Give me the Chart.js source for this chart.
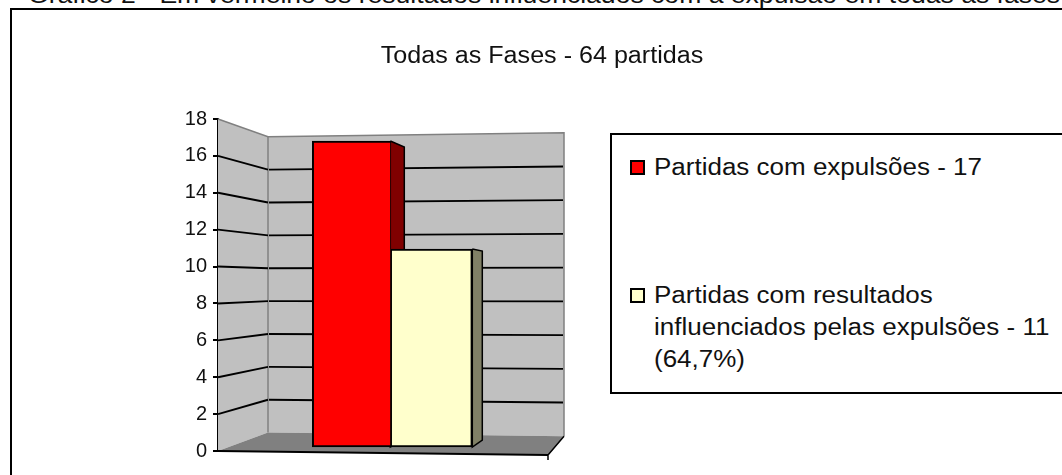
<!DOCTYPE html>
<html lang="pt">
<head>
<meta charset="utf-8">
<title>Gráfico 2</title>
<script src="https://cdn.jsdelivr.net/npm/chart.js@4"></script>
<style>
    html, body { margin: 0; padding: 0; background: #fff; overflow: hidden; width: 1062px; height: 475px; }
    body { position: relative; font-family: "Liberation Sans", Arial, sans-serif; color: #111; }
    /* o texto do original está esticado na horizontal */
    #cabecalho { position: absolute; left: 28px; top: -20.5px; font-size: 23px; line-height: 30px; white-space: nowrap; transform: scaleX(1.155); transform-origin: left top; }
    #marco { position: absolute; left: 9.5px; top: 8px; width: 1100px; height: 500px; border: 2px solid #000; }
    #grafico { position: absolute; left: 0; top: 0; }
    #legenda { position: absolute; left: 610px; top: 133px; width: 500px; height: 257px; border: 2px solid #000; background: #fff; font-size: 23px; line-height: 32px; }
    .item { position: absolute; left: 42px; white-space: nowrap; }
    .texto { transform: scaleX(1.13); transform-origin: left top; }
    .caixa { position: absolute; left: -24.5px; top: 9px; width: 11px; height: 11px; border: 2px solid #000; }
</style>
</head>
<body>
<div id="cabecalho">Gráfico 2 - Em vermelho os resultados influenciados com a expulsão em todas as fases</div>
<div id="marco"></div>
<canvas id="grafico" width="1062" height="475"></canvas>
<div id="legenda"></div>
<script>
const categorias = ['Todas as Fases'];
const tituloGrafico = 'Todas as Fases - 64 partidas';
const partidasComExpulsoes = [17];
const partidasInfluenciadas = [11];
const rotuloExpulsoes = ['Partidas com expulsões - 17'];
const rotuloInfluenciadas = ['Partidas com resultados', 'influenciados pelas expulsões - 11', '(64,7%)'];
const ticksY = [0, 2, 4, 6, 8, 10, 12, 14, 16, 18];

const VERMELHO = '#ff0000';
const CREME = '#ffffcc';
const ESTICA_TITULO = 1.092;

// Perspectiva da caixa 3D, em pixels a partir da borda esquerda da área do gráfico
const FUNDO_X = 50;
const FUNDO_DIR_X = 346;
const FRENTE_DIR_X = 330;

function linha(ctx, pontos, cor, largura) {
    ctx.beginPath();
    pontos.forEach((p, i) => i ? ctx.lineTo(p[0], p[1]) : ctx.moveTo(p[0], p[1]));
    ctx.strokeStyle = cor;
    ctx.lineWidth = largura;
    ctx.stroke();
}

function poligono(ctx, pontos, cor) {
    ctx.beginPath();
    pontos.forEach((p, i) => i ? ctx.lineTo(p[0], p[1]) : ctx.moveTo(p[0], p[1]));
    ctx.closePath();
    ctx.fillStyle = cor;
    ctx.fill();
}

// Desenha paredes, chão e faces laterais das barras antes das barras
const caixa3d = {
    id: 'caixa3d',
    beforeDraw(chart) {
        // estica o título como no original
        const bloco = chart.titleBlock;
        if (!bloco.desenhoOriginal) {
            bloco.desenhoOriginal = bloco.draw;
            bloco.draw = function() {
                const ctx = this.ctx;
                const centro = (this.left + this.right) / 2;
                ctx.save();
                ctx.translate(centro, 0);
                ctx.scale(ESTICA_TITULO, 1);
                ctx.translate(-centro, 0);
                this.desenhoOriginal();
                ctx.restore();
            };
        }
    },
    beforeDatasetsDraw(chart) {
        const ctx = chart.ctx;
        const y = chart.scales.y;
        const x0 = chart.chartArea.left;
        const max = ticksY[ticksY.length - 1];

        // a profundidade encolhe a escala na parede do fundo
        const fundoEsq = v => y.getPixelForValue(v) + (-18.4 + 36.1 * v / max);
        const fundoDir = v => y.getPixelForValue(v) + (-14.7 + 28.4 * v / max);
        const frenteDirBase = y.getPixelForValue(0) + 4;

        ctx.save();
        poligono(ctx, [[x0, y.getPixelForValue(max)], [x0 + FUNDO_X, fundoEsq(max)], [x0 + FUNDO_X, fundoEsq(0)], [x0, y.getPixelForValue(0)]], '#c0c0c0');
        poligono(ctx, [[x0 + FUNDO_X, fundoEsq(max)], [x0 + FUNDO_DIR_X, fundoDir(max)], [x0 + FUNDO_DIR_X, fundoDir(0)], [x0 + FUNDO_X, fundoEsq(0)]], '#c0c0c0');
        poligono(ctx, [[x0, y.getPixelForValue(0)], [x0 + FUNDO_X, fundoEsq(0)], [x0 + FUNDO_DIR_X, fundoDir(0)], [x0 + FRENTE_DIR_X, frenteDirBase]], '#808080');

        linha(ctx, [[x0, y.getPixelForValue(max)], [x0 + FUNDO_X, fundoEsq(max)], [x0 + FUNDO_DIR_X, fundoDir(max)], [x0 + FUNDO_DIR_X, fundoDir(0)]], '#808080', 1.5);
        linha(ctx, [[x0 + FUNDO_X, fundoEsq(max)], [x0 + FUNDO_X, fundoEsq(0)]], '#808080', 1.5);

        ticksY.slice(1, -1).forEach(v => {
            linha(ctx, [[x0, y.getPixelForValue(v)], [x0 + FUNDO_X, fundoEsq(v)]], '#000', 1.9);
            linha(ctx, [[x0 + FUNDO_X + 1, fundoEsq(v)], [x0 + FUNDO_DIR_X - 1, fundoDir(v)]], '#000', 1.9);
        });

        linha(ctx, [[x0, y.getPixelForValue(0)], [x0 + FRENTE_DIR_X, frenteDirBase]], '#000', 2);
        linha(ctx, [[x0 + FRENTE_DIR_X, frenteDirBase + 5], [x0 + FRENTE_DIR_X, frenteDirBase], [x0 + FUNDO_DIR_X, fundoDir(0)]], '#000', 1.5);

        const barra1 = chart.getDatasetMeta(0).data[0];
        const barra2 = chart.getDatasetMeta(1).data[0];
        faceLateral(ctx, barra1, 14, 6, -7, '#800000');
        faceLateral(ctx, barra2, 10, 2, -7, '#808066');
        ctx.restore();
    }
};

function faceLateral(ctx, barra, dx, dyTopo, dyBase, cor) {
    const dir = barra.x + barra.width / 2;
    const pontos = [[dir, barra.y], [dir + dx, barra.y + dyTopo], [dir + dx, barra.base + dyBase], [dir, barra.base]];
    poligono(ctx, pontos, cor);
    linha(ctx, pontos.concat([pontos[0]]), '#000', 1.5);
}

const grafico = new Chart(document.getElementById('grafico'), {
    type: 'bar',
    data: {
        labels: categorias,
        datasets: [
            {
                label: rotuloExpulsoes.join(' '),
                data: partidasComExpulsoes,
                yAxisID: 'yBarras',
                backgroundColor: VERMELHO,
                borderColor: '#000',
                borderWidth: 2,
                borderSkipped: 'right',
                barThickness: 78
            },
            {
                label: rotuloInfluenciadas.join(' '),
                data: partidasInfluenciadas,
                yAxisID: 'yBarras',
                backgroundColor: CREME,
                borderColor: '#000',
                borderWidth: 2,
                borderSkipped: false,
                barThickness: 82
            }
        ]
    },
    options: {
        responsive: false,
        animation: false,
        layout: { padding: { left: 22, right: 0, top: 0, bottom: 24 } },
        plugins: {
            legend: { display: false },
            tooltip: { enabled: false },
            title: {
                display: true,
                text: tituloGrafico,
                color: '#111',
                font: { family: '"Liberation Sans", Arial, sans-serif', size: 23, weight: 'normal' },
                padding: { top: 42.7, bottom: 48.7 }
            }
        },
        scales: {
            x: { display: false },
            y: {
                position: 'left',
                min: 0,
                max: 18,
                afterFit: escala => { escala.width = 196; },
                afterBuildTicks: escala => { escala.ticks = ticksY.map(v => ({ value: v })); },
                ticks: {
                    color: '#111',
                    padding: 6,
                    font: { family: '"Liberation Sans", Arial, sans-serif', size: 20 }
                },
                grid: { drawOnChartArea: false, color: '#000', tickLength: 5, lineWidth: 2 },
                border: { color: '#000', width: 2 }
            },
            // escala do plano da frente das barras; também reserva o espaço da legenda à direita
            yBarras: {
                position: 'right',
                min: -0.222,
                max: 18.222,
                afterFit: escala => { escala.width = 499.4; },
                ticks: { display: false },
                grid: { display: false },
                border: { display: false }
            }
        }
    },
    plugins: [caixa3d]
});

// Legenda em HTML para reproduzir as quebras de linha e o espaçamento do original
function montarLegenda() {
    const legenda = document.getElementById('legenda');
    const itens = [
        { linhas: rotuloExpulsoes, cor: grafico.data.datasets[0].backgroundColor, topo: 16 },
        { linhas: rotuloInfluenciadas, cor: grafico.data.datasets[1].backgroundColor, topo: 144 }
    ];
    itens.forEach(item => {
        const div = document.createElement('div');
        div.className = 'item';
        div.style.top = item.topo + 'px';
        const texto = document.createElement('div');
        texto.className = 'texto';
        texto.innerHTML = item.linhas.join('<br>');
        const caixa = document.createElement('span');
        caixa.className = 'caixa';
        caixa.style.background = item.cor;
        div.appendChild(texto);
        div.appendChild(caixa);
        legenda.appendChild(div);
    });
}
montarLegenda();
grafico.draw();
</script>
</body>
</html>
